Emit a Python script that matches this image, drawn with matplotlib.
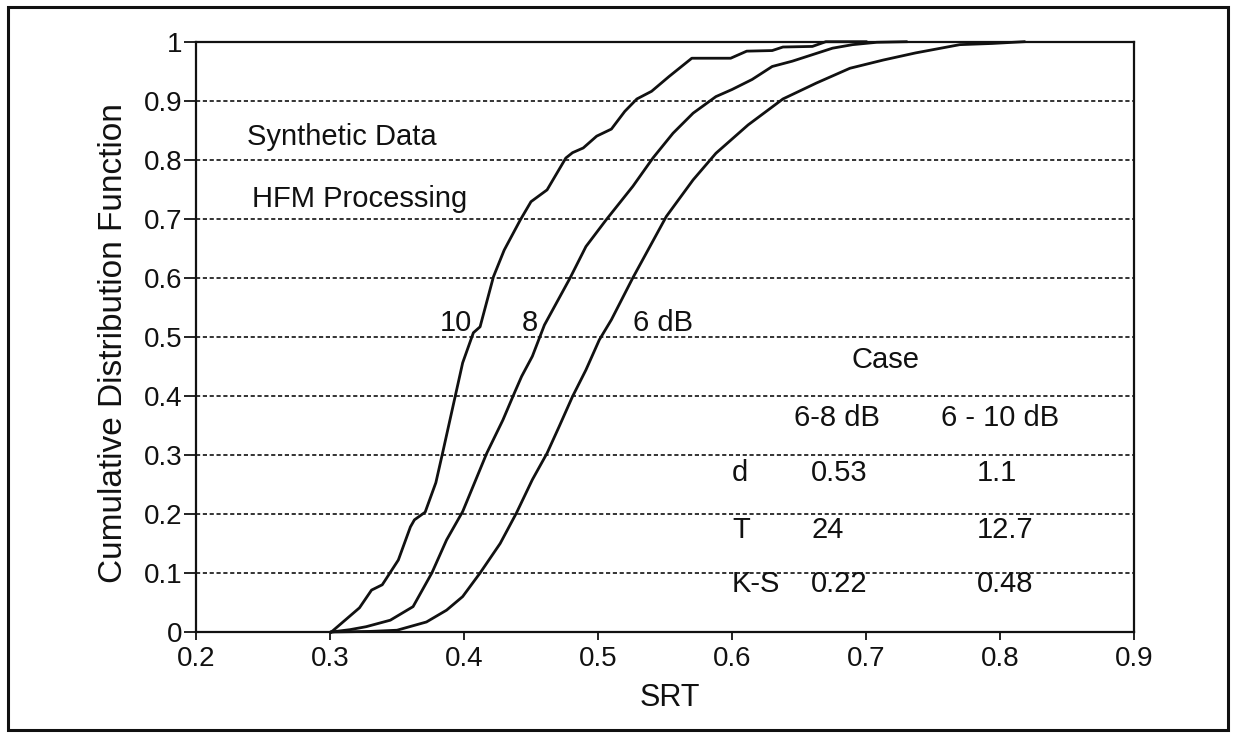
import matplotlib
matplotlib.use("Agg")
import matplotlib.pyplot as plt
from matplotlib.patches import Rectangle

plt.rcParams['font.family'] = ['Liberation Sans', 'DejaVu Sans']

# CDF curves (SRT, cumulative fraction)
srt_10 = [0.301, 0.322, 0.331, 0.339, 0.351, 0.360, 0.363, 0.371, 0.379, 0.384,
          0.394, 0.399, 0.407, 0.412, 0.422, 0.430, 0.442, 0.450, 0.462, 0.476,
          0.481, 0.489, 0.499, 0.510, 0.520, 0.529, 0.540, 0.553, 0.570, 0.599,
          0.611, 0.630, 0.638, 0.660, 0.670, 0.700]
cdf_10 = [0.0, 0.041, 0.071, 0.080, 0.122, 0.178, 0.190, 0.203, 0.253, 0.303,
          0.405, 0.456, 0.507, 0.517, 0.602, 0.647, 0.698, 0.729, 0.749, 0.803,
          0.812, 0.820, 0.840, 0.852, 0.882, 0.903, 0.916, 0.941, 0.972, 0.972,
          0.984, 0.985, 0.991, 0.992, 1.0, 1.0]

srt_8 = [0.301, 0.315, 0.327, 0.345, 0.362, 0.376, 0.387, 0.399, 0.417, 0.429,
         0.438, 0.443, 0.451, 0.460, 0.479, 0.491, 0.506, 0.526, 0.541, 0.556,
         0.571, 0.588, 0.600, 0.615, 0.630, 0.645, 0.660, 0.675, 0.690, 0.708,
         0.730]
cdf_8 = [0.0, 0.004, 0.009, 0.020, 0.043, 0.100, 0.156, 0.204, 0.303, 0.359,
         0.407, 0.433, 0.467, 0.520, 0.599, 0.653, 0.698, 0.755, 0.803, 0.845,
         0.879, 0.907, 0.919, 0.936, 0.958, 0.967, 0.978, 0.989, 0.995, 0.999,
         1.0]

srt_6 = [0.301, 0.330, 0.350, 0.372, 0.387, 0.399, 0.412, 0.427, 0.439, 0.451,
         0.462, 0.471, 0.481, 0.491, 0.501, 0.510, 0.526, 0.551, 0.571, 0.588,
         0.612, 0.638, 0.663, 0.688, 0.713, 0.737, 0.770, 0.794, 0.818]
cdf_6 = [0.0, 0.001, 0.003, 0.017, 0.037, 0.060, 0.100, 0.150, 0.201, 0.258,
         0.303, 0.348, 0.399, 0.444, 0.495, 0.529, 0.600, 0.704, 0.766, 0.811,
         0.859, 0.903, 0.930, 0.955, 0.969, 0.981, 0.995, 0.997, 1.0]

x_ticks = [0.2, 0.3, 0.4, 0.5, 0.6, 0.7, 0.8, 0.9]
y_ticks = [0, 0.1, 0.2, 0.3, 0.4, 0.5, 0.6, 0.7, 0.8, 0.9, 1]
y_tick_labels = ['0', '0.1', '0.2', '0.3', '0.4', '0.5', '0.6', '0.7', '0.8', '0.9', '1']

# statistics table
row_names = ['d', 'T', 'K-S']
col_names = ['6-8 dB', '6 - 10 dB']
vals_6_8 = ['0.53', '24', '0.22']
vals_6_10 = ['1.1', '12.7', '0.48']

INK = '#111111'


def main():
    fig = plt.figure(figsize=(12.34, 7.33), dpi=100)
    ax = fig.add_axes([196 / 1234, 1 - 632 / 733, 938 / 1234, 590.3 / 733])

    # 1. dotted grid lines
    ax.hlines(y_ticks[1:-1], 0.2, 0.9, colors=INK, linewidth=1.2,
              linestyles=(0, (2.5, 1.6)), zorder=1)

    # 2. the three CDF curves
    for xs, ys in [(srt_10, cdf_10), (srt_8, cdf_8), (srt_6, cdf_6)]:
        ax.plot(xs, ys, color=INK, linewidth=2.0, clip_on=False, zorder=3)

    ax.set_xlim(0.2, 0.9)
    ax.set_ylim(0, 1)
    ax.set_xticks(x_ticks)
    ax.set_xticklabels([f'{v:.1f}' for v in x_ticks], fontsize=20)
    ax.set_yticks(y_ticks)
    ax.set_yticklabels(y_tick_labels, fontsize=20)
    ax.tick_params(axis='x', direction='out', length=6, width=1.3, pad=4, colors=INK)
    ax.tick_params(axis='y', direction='out', length=9, width=1.3, pad=1, colors=INK)
    for sp in ax.spines.values():
        sp.set_linewidth(1.6)
        sp.set_color(INK)

    # 3. axis labels
    fig.text(670 / 1234, 1 - 706 / 733, 'SRT', fontsize=22, ha='center',
             va='baseline', color=INK)
    fig.text(114 / 1234, 1 - 343 / 733, 'Cumulative Distribution Function',
             fontsize=24, rotation=90, ha='center', va='center', color=INK)

    # 4. annotations inside the plot
    ax.text(0.238, 0.825, 'Synthetic Data', fontsize=21, va='baseline', color=INK)
    ax.text(0.242, 0.720, 'HFM Processing', fontsize=21, va='baseline', color=INK)
    ax.text(0.382, 0.510, '10', fontsize=21, va='baseline', color=INK)
    ax.text(0.443, 0.510, '8', fontsize=21, va='baseline', color=INK)
    ax.text(0.526, 0.510, '6 dB', fontsize=21, va='baseline', color=INK)

    ax.text(0.689, 0.447, 'Case', fontsize=21, va='baseline', color=INK)
    ax.text(0.646, 0.349, col_names[0], fontsize=21, va='baseline', color=INK)
    ax.text(0.756, 0.349, col_names[1], fontsize=21, va='baseline', color=INK)
    row_y = [0.255, 0.159, 0.068]
    for name, a, b, y in zip(row_names, vals_6_8, vals_6_10, row_y):
        ax.text(0.600, y, name, fontsize=21, va='baseline', color=INK)
        ax.text(0.659, y, a, fontsize=21, va='baseline', color=INK)
        ax.text(0.783, y, b, fontsize=21, va='baseline', color=INK)

    # 5. outer frame around the whole figure
    frame = Rectangle((8 / 1234, 1 - 730 / 733), 1220 / 1234, 723 / 733,
                      transform=fig.transFigure, fill=False, edgecolor=INK,
                      linewidth=2.2)
    fig.patches.append(frame)

    fig.savefig('out.png', dpi=100)
    plt.close(fig)


if __name__ == '__main__':
    main()
